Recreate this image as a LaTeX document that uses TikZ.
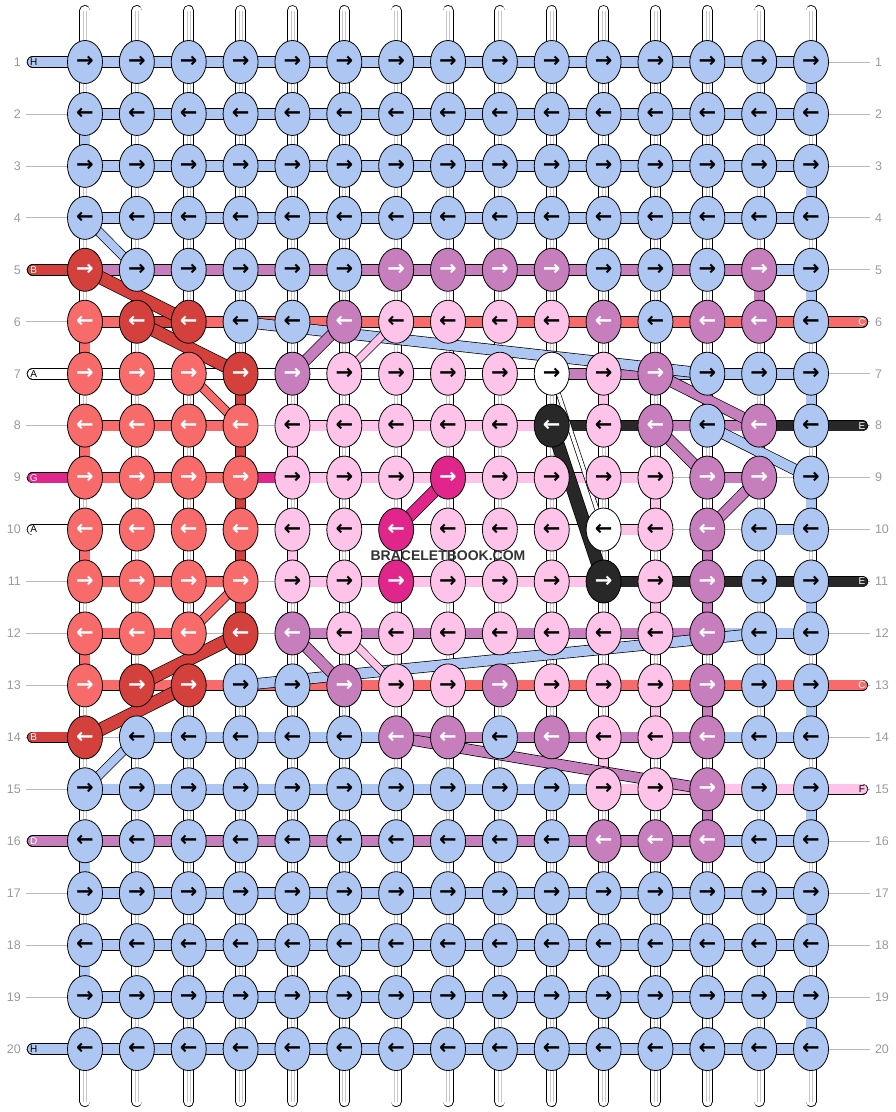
\documentclass[tikz,border=0pt]{standalone}
\usepackage{fontspec}
\setmainfont{Liberation Sans}
\newfontfamily\arrowfont{DejaVu Sans}
\usetikzlibrary{shapes.geometric,backgrounds}
\definecolor{thrb}{HTML}{AEC7F2}
\definecolor{thrs}{HTML}{F86B6B}
\definecolor{thrr}{HTML}{D4403B}
\definecolor{thrp}{HTML}{FEC3E8}
\definecolor{thrm}{HTML}{C67EBD}
\definecolor{thrg}{HTML}{E0268A}
\definecolor{thrk}{HTML}{282828}
\definecolor{thrw}{HTML}{FFFFFF}
\definecolor{rowgray}{HTML}{9A9A9A}
\tikzset{
  knot/.style={ellipse, draw=black, line width=0.8pt, minimum width=35pt, minimum height=43pt, inner sep=0pt, font=\arrowfont\bfseries\fontsize{21}{21}\selectfont},
  kb/.style={knot, fill=thrb, text=black},
  ks/.style={knot, fill=thrs, text=white},
  kr/.style={knot, fill=thrr, text=white},
  kp/.style={knot, fill=thrp, text=black},
  km/.style={knot, fill=thrm, text=white},
  kg/.style={knot, fill=thrg, text=white},
  kk/.style={knot, fill=thrk, text=white},
  kw/.style={knot, fill=thrw, text=black},
  seg/.style={draw=black, line width=0.8pt, double=thr#1, double distance=10pt},
  band/.style={draw=black, line width=0.7pt, double=thr#1},
  warp/.style={draw=black, line width=0.8pt, double=white, double distance=9.4pt, line cap=round},
  warpline/.style={draw=black!22, line width=0.6pt},
  rowline/.style={draw=rowgray!70, line width=0.8pt},
  rowno/.style={text=rowgray, font=\fontsize{12.5}{12.5}\selectfont, inner sep=0pt},
  endtag/.style={font=\fontsize{10}{10}\selectfont, inner sep=0pt},
  logo/.style={font=\bfseries\fontsize{14}{14}\selectfont, text=black!80, inner sep=1pt},
}
\begin{document}
\begin{tikzpicture}[x=51.86pt, y=-51.95pt]
  \useasboundingbox (-0.639,-0.1935) rectangle (16.638,21.212);
  % knots, one row per line
  \foreach \rw/\cols in {
    1/{b,b,b,b,b,b,b,b,b,b,b,b,b,b,b},
    2/{b,b,b,b,b,b,b,b,b,b,b,b,b,b,b},
    3/{b,b,b,b,b,b,b,b,b,b,b,b,b,b,b},
    4/{b,b,b,b,b,b,b,b,b,b,b,b,b,b,b},
    5/{r,b,b,b,b,b,m,m,m,m,b,b,b,m,b},
    6/{s,r,r,b,b,m,p,p,p,p,m,b,m,m,b},
    7/{s,s,s,r,m,p,p,p,p,w,p,m,b,b,b},
    8/{s,s,s,s,p,p,p,p,p,k,p,m,b,m,b},
    9/{s,s,s,s,p,p,p,g,p,p,p,p,m,m,b},
    10/{s,s,s,s,p,p,g,p,p,p,w,p,m,b,b},
    11/{s,s,s,s,p,p,g,p,p,p,k,p,m,b,b},
    12/{s,s,s,r,m,p,p,p,p,p,p,p,m,b,b},
    13/{s,r,r,b,b,m,p,p,m,p,p,p,m,b,b},
    14/{r,b,b,b,b,b,m,m,b,m,p,p,m,b,b},
    15/{b,b,b,b,b,b,b,b,b,b,p,p,m,b,b},
    16/{b,b,b,b,b,b,b,b,b,b,m,m,m,b,b},
    17/{b,b,b,b,b,b,b,b,b,b,b,b,b,b,b},
    18/{b,b,b,b,b,b,b,b,b,b,b,b,b,b,b},
    19/{b,b,b,b,b,b,b,b,b,b,b,b,b,b,b},
    20/{b,b,b,b,b,b,b,b,b,b,b,b,b,b,b}}
  {
    \foreach \tc [count=\cl] in \cols
      \node[k\tc] (k\cl-\rw) at (\cl,\rw) {\ifodd\rw\relax→\else←\fi};
  }
  \foreach \rw in {1,...,20}{
    \node[rowno, anchor=east] (nl\rw) at (-0.234,\rw) {\rw};
    \node[rowno, anchor=west] (nr\rw) at (16.23,\rw) {\rw};
    \coordinate (rl\rw) at (-0.138,\rw);
    \coordinate (rr\rw) at (16.137,\rw);
  }
  \foreach \cl in {1,...,15}{
    \coordinate (top\cl) at (\cl,0.01);
    \coordinate (bot\cl) at (\cl,21.01);
  }
  % loose thread ends
  \foreach \rw/\lt/\fg in {1/H/black, 5/B/white, 7/A/black, 9/G/white, 10/A/black, 14/B/white, 16/D/white, 20/H/black}{
    \coordinate (el\rw) at (-0.01,\rw);
    \node[endtag, text=\fg] (tl\rw) at (0.01,\rw) {\lt};
  }
  \foreach \rw/\lt/\fg in {6/C/white, 8/E/white, 11/E/white, 13/C/white, 15/F/black}{
    \coordinate (er\rw) at (15.99,\rw);
    \node[endtag, text=\fg] (tr\rw) at (15.98,\rw) {\lt};
  }
  \node[logo] (logo) at (8,10.5) {BRACELETBOOK.COM};

  \begin{scope}[on background layer]
    \foreach \rw in {1,...,20} \draw[rowline] (rl\rw) -- (rr\rw);
    \foreach \cl in {1,...,15}{
      \draw[warp] (top\cl) -- (bot\cl);
      \draw[warpline] ([xshift=-1.5pt]top\cl) -- ([xshift=-1.5pt]bot\cl);
      \draw[warpline] ([xshift=1.5pt]top\cl) -- ([xshift=1.5pt]bot\cl);
    }
    % threads between knots, n = none
    \foreach \rw/\cols in {
      1/{b,b,b,b,b,b,b,b,b,b,b,b,b,b},
      2/{b,b,b,b,b,b,b,b,b,b,b,b,b,b},
      3/{b,b,b,b,b,b,b,b,b,b,b,b,b,b},
      4/{b,b,b,b,b,b,b,b,b,b,b,b,b,b},
      5/{m,m,m,m,m,m,m,m,m,m,m,m,m,b},
      6/{s,r,s,s,s,s,s,s,s,s,s,s,s,s},
      7/{w,w,w,w,w,w,w,w,w,m,m,b,b,b},
      8/{s,s,s,n,p,p,p,p,p,k,k,m,m,k},
      9/{s,s,s,g,p,p,p,p,p,p,p,n,m,n},
      10/{w,w,w,w,w,w,w,w,w,w,p,n,n,b},
      11/{s,s,s,n,p,p,p,p,p,p,k,k,k,k},
      12/{s,s,n,n,m,m,m,m,m,m,m,m,b,b},
      13/{s,s,s,s,s,s,s,s,s,s,s,s,s,s},
      14/{n,b,b,b,b,b,m,m,m,m,m,m,b,b},
      15/{b,b,b,b,b,b,b,b,b,b,p,p,p,p},
      16/{m,m,m,m,m,m,m,m,m,m,m,m,b,b},
      17/{b,b,b,b,b,b,b,b,b,b,b,b,b,b},
      18/{b,b,b,b,b,b,b,b,b,b,b,b,b,b},
      19/{b,b,b,b,b,b,b,b,b,b,b,b,b,b},
      20/{b,b,b,b,b,b,b,b,b,b,b,b,b,b}}
    {
      \foreach \tc [count=\cl] in \cols {
        \if n\tc\else
          \pgfmathtruncatemacro\nx{\cl+1}
          \draw[seg=\tc] (k\cl-\rw.center) -- (k\nx-\rw.center);
        \fi
      }
    }
    % threads running down between rows
    \foreach \cl/\rw/\tc in {15/1/b, 1/2/b, 15/3/b, 15/5/b, 14/5/m, 1/6/s, 4/7/r, 11/7/p, 15/7/b,
        1/8/s, 4/8/r, 5/8/p, 4/9/r, 12/9/p, 15/9/b, 1/10/s, 4/10/r, 5/10/p, 13/10/m,
        4/11/r, 12/11/p, 13/11/m, 15/11/b, 1/12/s, 12/13/p, 13/13/m, 15/13/b, 11/14/p,
        13/15/m, 15/15/b, 1/16/b, 15/17/b, 1/18/b, 15/19/b}{
      \pgfmathtruncatemacro\nx{\rw+1}
      \draw[seg=\tc, double distance=9.4pt] (k\cl-\rw.center) -- (k\cl-\nx.center);
    }
    \foreach \rw/\tc in {1/b, 5/r, 7/w, 9/g, 10/w, 14/r, 16/m, 20/b}
      \draw[seg=\tc, line cap=round] (el\rw) -- (k1-\rw.center);
    \foreach \rw/\tc in {6/s, 8/k, 11/k, 13/s, 15/p}
      \draw[seg=\tc, line cap=round] (k15-\rw.center) -- (er\rw);
    % threads that skip across
    \foreach \ca/\ra/\cb/\rb/\tc/\bw in {1/5/3/6/r/12, 2/6/4/7/r/12, 3/7/4/8/s/8, 1/4/2/5/b/8,
        4/6/13/7/b/10, 6/6/5/7/m/10, 7/6/6/7/p/7, 12/7/14/8/m/10, 10/7/11/10/w/3.5,
        10/8/11/11/k/12, 12/8/13/9/m/10, 13/8/15/9/b/10, 8/9/7/10/g/11, 14/9/13/10/m/10,
        4/11/3/12/s/8, 4/12/2/13/r/12, 3/13/1/14/r/12, 14/12/4/13/b/10, 5/12/6/13/m/10,
        6/12/7/13/p/7, 2/14/1/15/b/8, 7/14/13/15/m/10}
      \draw[band=\tc, double distance=\bw pt] (k\ca-\ra.center) -- (k\cb-\rb.center);
  \end{scope}
\end{tikzpicture}
\end{document}
